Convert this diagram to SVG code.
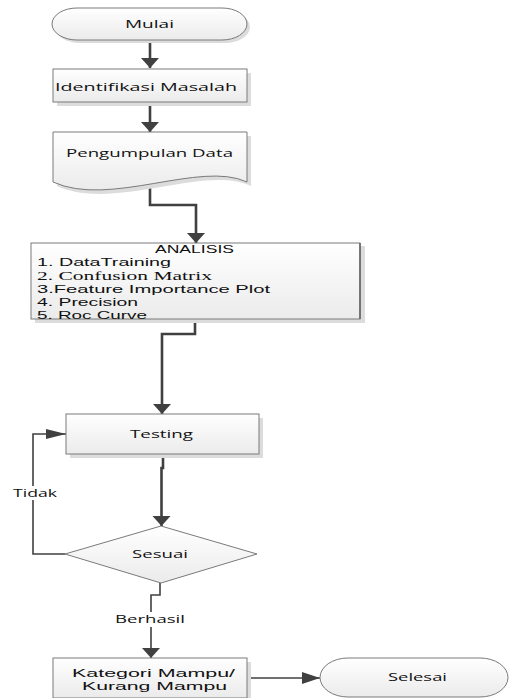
<svg xmlns="http://www.w3.org/2000/svg" width="510" height="698" viewBox="0 0 510 698">
<defs>
<linearGradient id="g" x1="0" y1="0" x2="0" y2="1">
<stop offset="0" stop-color="#ffffff"/>
<stop offset="1" stop-color="#ebebeb"/>
</linearGradient>
<marker id="ad" markerUnits="userSpaceOnUse" markerWidth="12" markerHeight="20" refX="10" refY="9" orient="auto" viewBox="0 0 12 18">
<path d="M0,0 L10,9 L0,18 Z" fill="#404040"/>
</marker>
<marker id="ar" markerUnits="userSpaceOnUse" markerWidth="22" markerHeight="12" refX="20" refY="5" orient="auto" viewBox="0 0 22 10">
<path d="M0,0 L20,5 L0,10 Z" fill="#404040"/>
</marker>
<marker id="as" markerUnits="userSpaceOnUse" markerWidth="20" markerHeight="14" refX="18" refY="6" orient="auto" viewBox="0 0 20 12">
<path d="M0,0 L18,6 L0,12 Z" fill="#404040"/>
</marker>
</defs>
<style>
.shape{fill:url(#g);stroke:#7a7a7a;stroke-width:1}
.sh{fill:#dcdcdc}
.t{font-family:"Open Sans","Liberation Sans",sans-serif;font-size:11px;fill:#111111}
.m{font-family:"Liberation Sans",Arial,sans-serif;font-size:11px;fill:#111111}
.s{font-family:"Liberation Serif","Times New Roman",serif;font-size:11.5px;fill:#111111}
.c{fill:none;stroke:#404040;stroke-width:2.6}
.cl{fill:none;stroke:#404040;stroke-width:1.6}
</style>

<g id="connectors">
<path class="c" d="M150,40 V68" marker-end="url(#ad)"/>
<path class="c" d="M150,102 V132" marker-end="url(#ad)"/>
<path class="c" d="M150,188 V205 H196 V243" marker-end="url(#ad)"/>
<path class="c" d="M195,319 V334 H162 V414" marker-end="url(#ad)"/>
<path class="c" d="M163,454 V468 H161.5 V526" marker-end="url(#ad)"/>
<path class="cl" d="M65,554 H33 V434 H66" marker-end="url(#ar)"/>
<path class="cl" d="M160,583 V595 H151 V658" marker-end="url(#ad)"/>
<path class="cl" d="M247,678 H320" marker-end="url(#as)"/>
</g>

<g id="mulai">
<rect class="sh" x="55" y="11" width="195" height="32" rx="25" ry="16"/>
<rect class="shape" x="52" y="8" width="195" height="32" rx="25" ry="16"/>
<text class="t" x="125" y="28" textLength="49" lengthAdjust="spacingAndGlyphs">Mulai</text>
</g>

<g id="identifikasi">
<rect class="sh" x="57" y="73" width="194" height="33"/>
<rect class="shape" x="53" y="69" width="194" height="33"/>
<text class="t" x="55" y="91" textLength="182" lengthAdjust="spacingAndGlyphs">Identifikasi Masalah</text>
</g>

<g id="pengumpulan">
<path class="sh" d="M57,136 H251 V186 C204,164 114,212 57,186 Z"/>
<path class="shape" d="M53,132 H247 V182 C200,160 110,208 53,182 Z"/>
<text class="t" x="66" y="157" textLength="167" lengthAdjust="spacingAndGlyphs">Pengumpulan Data</text>
</g>

<g id="analisis">
<rect class="sh" x="35" y="246" width="330" height="77"/>
<rect class="shape" x="31" y="243" width="329" height="76"/>
<line x1="360" y1="243" x2="360" y2="319" stroke="#606060" stroke-width="1.5"/>
<text class="m" x="155" y="252.5" textLength="79" lengthAdjust="spacingAndGlyphs">ANALISIS</text>
<text class="m" x="37" y="266" textLength="134" lengthAdjust="spacingAndGlyphs">1. DataTraining</text>
<text class="s" x="37" y="279.5" textLength="175" lengthAdjust="spacingAndGlyphs">2. Confusion Matrix</text>
<text class="m" x="37" y="292.5" textLength="233" lengthAdjust="spacingAndGlyphs">3.Feature Importance Plot</text>
<text class="m" x="37" y="305.5" textLength="101" lengthAdjust="spacingAndGlyphs">4. Precision</text>
<text class="m" x="37" y="318.5" textLength="110" lengthAdjust="spacingAndGlyphs">5. Roc Curve</text>
</g>

<g id="testing">
<rect class="sh" x="70" y="418" width="193" height="40"/>
<rect class="shape" x="66" y="414" width="193" height="40"/>
<text class="t" x="130" y="438" textLength="63" lengthAdjust="spacingAndGlyphs">Testing</text>
</g>

<g id="sesuai">
<polygon class="shape" points="161,526 257,554 161,583 65,554"/>
<text class="t" x="132" y="558" textLength="56" lengthAdjust="spacingAndGlyphs">Sesuai</text>
</g>

<g id="label-tidak">
<rect x="12" y="486" width="46" height="14" fill="#ffffff"/>
<text class="t" x="13" y="497" textLength="44" lengthAdjust="spacingAndGlyphs">Tidak</text>
</g>

<g id="label-berhasil">
<rect x="114" y="612" width="72" height="15" fill="#ffffff"/>
<text class="t" x="115" y="623" textLength="70" lengthAdjust="spacingAndGlyphs">Berhasil</text>
</g>

<g id="kategori">
<rect class="sh" x="57" y="662" width="194" height="40"/>
<rect class="shape" x="53" y="658" width="194" height="40"/>
<text class="m" x="72" y="677" textLength="163" lengthAdjust="spacingAndGlyphs">Kategori Mampu/</text>
<text class="m" x="82" y="690" textLength="145" lengthAdjust="spacingAndGlyphs">Kurang Mampu</text>
</g>

<g id="selesai">
<rect class="shape" x="320" y="658" width="188" height="39" rx="28" ry="19.5"/>
<text class="t" x="388" y="681" textLength="59" lengthAdjust="spacingAndGlyphs">Selesai</text>
</g>
</svg>
